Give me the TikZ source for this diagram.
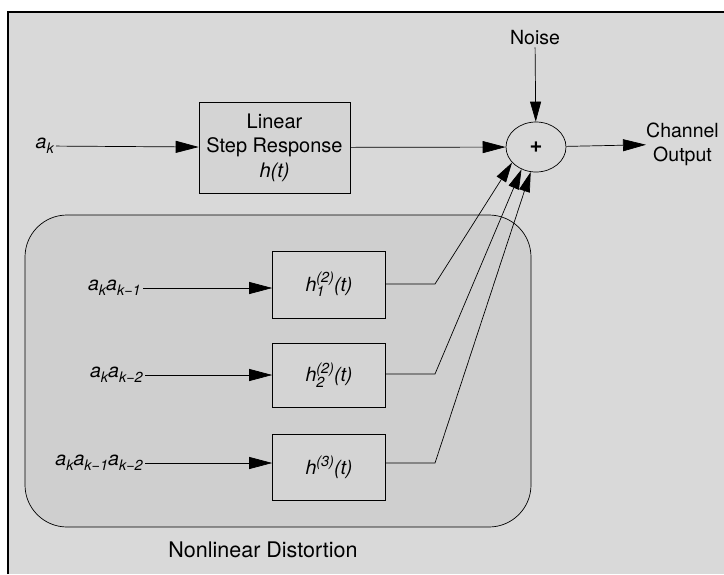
\documentclass[tikz,border=0pt]{standalone}
\usepackage{fontspec}
\setmainfont{TeX Gyre Heros}
\usetikzlibrary{arrows.meta,shapes.geometric}
% small indices set in text
\newcommand{\ssub}[1]{\raisebox{-0.28em}{\fontsize{14.5}{14.5}\selectfont #1}}
\newcommand{\ssup}[1]{\raisebox{0.42em}{\fontsize{14.5}{14.5}\selectfont #1}}
\newcommand{\supsub}[2]{\rlap{\ssub{#2}}\ssup{#1}}
\definecolor{bgouter}{gray}{0.85}
\definecolor{bginner}{gray}{0.81}
\definecolor{boxfill}{gray}{0.83}
\begin{document}
\begin{tikzpicture}[x=1pt,y=-1pt,
  every node/.style={font=\fontsize{19.5}{24}\selectfont},
  blockbox/.style={draw=black,line width=0.6pt,fill=boxfill,inner sep=0pt},
  lbl/.style={inner sep=2pt},
  sig/.style={line width=0.7pt,-{Triangle[length=23pt,width=12pt]}},
  sigs/.style={line width=0.7pt,-{Triangle[length=20pt,width=11pt]}}]
\useasboundingbox (0,0) rectangle (724,574);
% page background and frame
\fill[white] (0,0) rectangle (724,574);
\fill[bgouter] (8,12) rectangle (724,574);
\draw[line width=1.5pt] (8,574) -- (8,12) -- (724,12);
% nonlinear distortion region
\draw[line width=0.7pt,fill=bginner,rounded corners=42pt] (25,215) rectangle (531,527);
\node[lbl,font=\fontsize{21.5}{26}\selectfont] (nltext) at (263,550) {Nonlinear Distortion};
% linear path
\node[blockbox,minimum width=151pt,minimum height=91pt,align=center,font=\fontsize{20}{24.5}\selectfont] (lin) at (274.5,147.5)
  {Linear\\Step Response\\\textit{h(t)}};
\node[lbl,anchor=east] (ak) at (56,146) {\textit{a\ssub{k}}};
\node[draw=black,line width=0.7pt,fill=bgouter,ellipse,minimum width=60pt,minimum height=50pt,inner sep=0pt,font=\fontsize{22}{24}\selectfont\bfseries] (sum) at (536,147) {+};
\node[lbl] (noise) at (535,38) {Noise};
\node[lbl,anchor=west,align=center,inner sep=0pt] (out) at (646,144) {Channel\\Output};
\draw[sig] (ak) -- (lin);
\draw[sig] (lin) -- (sum);
\draw[sigs] (noise) -- (sum);
\draw[sig] (sum) -- (out);
% nonlinear kernels
\node[blockbox,minimum width=113pt,minimum height=67pt] (h1) at (329,284.5) {\textit{h\supsub{(2)}{1}(t)}};
\node[blockbox,minimum width=113pt,minimum height=64pt] (h2) at (329,375) {\textit{h\supsub{(2)}{2}(t)}};
\node[blockbox,minimum width=113pt,minimum height=66pt] (h3) at (329,467) {\textit{h\ssup{(3)}(t)}};
\node[lbl,anchor=east] (in1) at (143,288) {\textit{a\ssub{k}a\ssub{k−1}}};
\node[lbl,anchor=east] (in2) at (145,375) {\textit{a\ssub{k}a\ssub{k−2}}};
\node[lbl,anchor=east] (in3) at (145,463) {\textit{a\ssub{k}a\ssub{k−1}a\ssub{k−2}}};
\draw[sig] (in1) -- (in1 -| h1.west);
\draw[sig] (in2) -- (in2 -| h2.west);
\draw[sig] (in3) -- (in3 -| h3.west);
% kernel outputs routed to the summing junction
\coordinate (b1) at (435,284);
\coordinate (b2) at (435,374);
\coordinate (b3) at (435,463);
\draw[sigs] (h1.east |- b1) -- (b1) -- (sum.213);
\draw[sigs] (h2.east |- b2) -- (b2) -- (sum.237);
\draw[sigs] (h3.east |- b3) -- (b3) -- (sum.258);
\end{tikzpicture}
\end{document}
